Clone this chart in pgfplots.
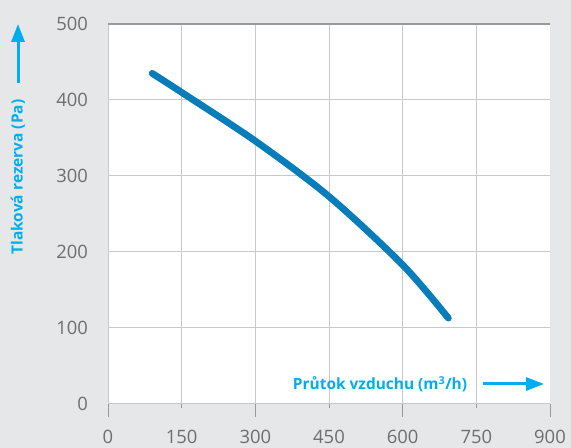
\documentclass[border=0pt]{standalone}
\usepackage{fontspec}
\setmainfont{Open Sans}
\usepackage{pgfplots}
\pgfplotsset{compat=1.18}
\usetikzlibrary{arrows.meta}
\definecolor{bg}{HTML}{E6E7E8}
\definecolor{ticktxt}{HTML}{6D6E71}
\definecolor{cyanlab}{HTML}{00AEEF}
\definecolor{curve}{RGB}{8,125,185}
\definecolor{gridc}{HTML}{C8C9CB}
\begin{document}
\begin{tikzpicture}[x=1bp,y=1bp]
\useasboundingbox (0,0) rectangle (571,448);
\fill[bg] (0,0) rectangle (571,448);
\begin{axis}[
  at={(108bp,44bp)}, anchor=south west,
  scale only axis, width=442bp, height=380bp,
  xmin=0, xmax=900, ymin=0, ymax=500,
  axis x line*=bottom, axis y line*=left,
  axis line style={gridc, line width=1bp},
  axis background/.style={fill=white},
  xtick={0,150,300,450,600,750},
  extra x ticks={0,300,600,900},
  extra x tick labels={,,,900},
  extra x tick style={grid=none, major tick length=13bp,
     xticklabel style={font=\fontsize{18.5}{20}\selectfont, text=ticktxt, yshift=8.5bp}},
  ytick={0,100,200,300,400,500},
  grid=major,
  major grid style={gridc, line width=1bp},
  tick align=outside,
  xtick pos=bottom,
  major tick length=4.5bp,
  x tick style={draw=ticktxt!70, line width=0.9bp},
  y tick style={draw=none},
  ticklabel style={font=\fontsize{18.5}{20}\selectfont, text=ticktxt},
  /pgf/number format/assume math mode=true,
  /pgf/number format/1000 sep={},
  xticklabel style={yshift=-18bp},
  yticklabel style={xshift=-12bp},
  clip=false,
]
\addplot[curve, line width=6.8bp, line cap=round, smooth] coordinates {
 (90,435) (150,410) (300,346) (450,273) (600,183) (693,113)
};
\draw[gray!80, line width=1.2bp] (rel axis cs:0,1) -- (rel axis cs:1,1);
\end{axis}
\node[rotate=90, text=cyanlab, font=\fontsize{15.5}{17}\selectfont\bfseries] at (18,271) {Tlaková rezerva (Pa)};
\draw[cyanlab, line width=3bp, -{Triangle[length=18bp,width=13bp]}] (18,365) -- (18,424);
\node[text=cyanlab, font=\fontsize{15.5}{17}\selectfont\bfseries] at (380,64) {Průtok vzduchu (m\textsuperscript{3}/h)};
\draw[cyanlab, line width=3bp, -{Triangle[length=18bp,width=13bp]}] (483,64) -- (544,64);
\end{tikzpicture}
\end{document}
